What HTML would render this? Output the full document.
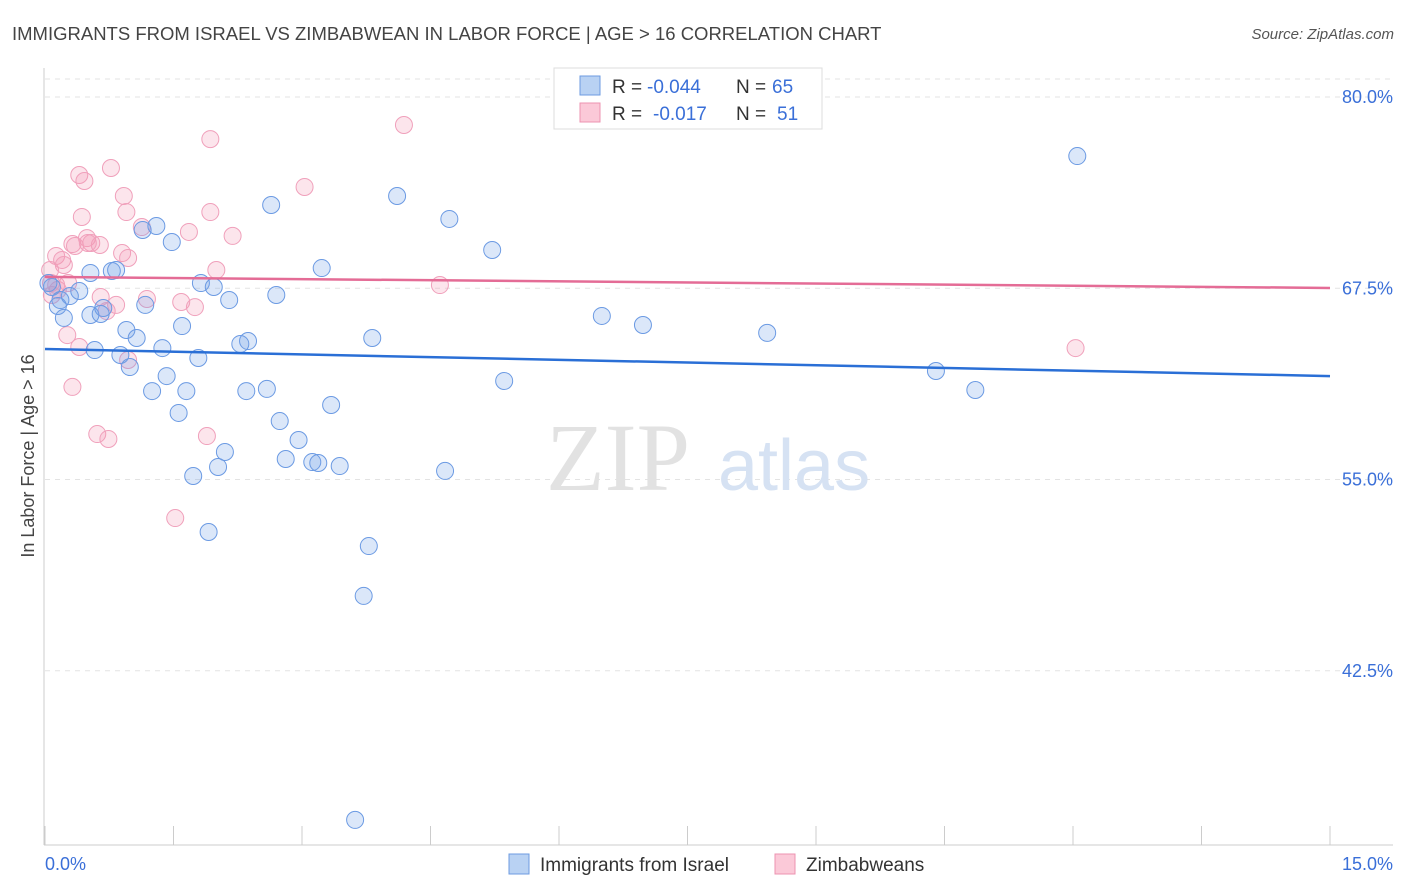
<!DOCTYPE html>
<html><head><meta charset="utf-8"><style>
body{margin:0;background:#fff;font-family:"Liberation Sans",sans-serif;}
svg{display:block}
</style></head><body>
<svg id="chart" width="1406" height="892" xmlns="http://www.w3.org/2000/svg">
<text x="12" y="40" font-size="18.5" fill="#444">IMMIGRANTS FROM ISRAEL VS ZIMBABWEAN IN LABOR FORCE | AGE &gt; 16 CORRELATION CHART</text>
<text x="1394" y="39" font-size="15" fill="#555" font-style="italic" text-anchor="end">Source: ZipAtlas.com</text>
<g id="grid"></g>
<text x="690" y="490" font-size="96" fill="#e2e2e2" font-family="Liberation Serif,serif" text-anchor="end">ZIP</text>
<text x="718" y="490" font-size="72" fill="#d6e2f3">atlas</text>
<g id="marks"></g>
<text transform="translate(34,456) rotate(-90)" font-size="18" fill="#444" text-anchor="middle">In Labor Force | Age &gt; 16</text>
<g>
<rect x="554" y="68" width="268" height="61" fill="#fff" stroke="#ddd"/>
<rect x="580" y="76" width="20" height="19" fill="#b9d2f3" stroke="#6d9be0"/>
<rect x="580" y="103" width="20" height="19" fill="#fbc9d8" stroke="#ec93b0"/>
<text x="612" y="93" font-size="19" fill="#333">R =</text>
<text x="647" y="93" font-size="19" fill="#3a6fd8">-0.044</text>
<text x="736" y="93" font-size="19" fill="#333">N =</text>
<text x="772" y="93" font-size="19" fill="#3a6fd8">65</text>
<text x="612" y="120" font-size="19" fill="#333">R =</text>
<text x="653" y="120" font-size="19" fill="#3a6fd8">-0.017</text>
<text x="736" y="120" font-size="19" fill="#333">N =</text>
<text x="777" y="120" font-size="19" fill="#3a6fd8">51</text>
</g>
<g>
<rect x="509" y="854" width="20" height="20" fill="#b9d2f3" stroke="#6d9be0"/>
<text x="540" y="871" font-size="19" fill="#333">Immigrants from Israel</text>
<rect x="775" y="854" width="20" height="20" fill="#fbc9d8" stroke="#ec93b0"/>
<text x="806" y="871" font-size="19" fill="#333">Zimbabweans</text>
</g>
<text x="45" y="870" font-size="18" fill="#3a6fd8">0.0%</text>
<text x="1393" y="870" font-size="18" fill="#3a6fd8" text-anchor="end">15.0%</text>
</svg>
<script>
const yTicks=[80,67.5,55,42.5];
const yTickLabels=["80.0%","67.5%","55.0%","42.5%"];
const blueX=[12.05,4.11,2.64,4.72,1.14,1.30,1.48,5.22,3.23,0.78,0.83,0.53,1.82,1.97,2.70,2.15,0.40,0.08,0.18,0.29,0.15,0.22,0.53,0.68,1.17,0.65,6.50,6.98,1.60,0.95,1.07,8.43,3.82,2.37,2.28,0.58,1.37,0.88,1.79,0.99,10.40,1.42,5.36,1.25,1.65,2.35,2.59,10.86,3.34,1.56,2.74,2.96,2.10,2.81,3.12,3.19,3.44,2.02,4.67,1.73,1.91,3.78,3.72,3.62,0.04];
const blueY=[76.14,73.53,72.94,72.03,71.31,71.57,70.52,70.0,68.82,68.63,68.69,68.5,67.84,67.58,67.06,66.73,67.32,67.58,66.73,66.99,66.34,65.56,65.75,66.21,66.41,65.82,65.69,65.10,65.03,64.77,64.25,64.58,64.25,64.05,63.86,63.46,63.59,63.14,62.94,62.35,62.09,61.76,61.44,60.78,60.78,60.78,60.92,60.85,59.87,59.35,58.82,57.58,56.80,56.34,56.14,56.08,55.88,55.82,55.56,55.23,51.57,50.65,47.39,32.75,67.84];
const pinkX=[4.19,1.93,0.77,0.40,0.46,3.03,0.92,1.93,0.95,0.43,1.13,1.68,2.19,0.49,0.32,0.54,0.35,0.90,0.97,0.13,0.20,0.22,2.00,0.27,4.61,0.07,0.15,0.08,0.65,1.19,1.59,1.75,0.83,0.72,0.26,0.40,12.03,0.97,0.32,0.61,0.74,1.89,1.52,0.06,0.13,0.64,0.50];
const pinkY=[78.17,77.25,75.36,74.90,74.51,74.12,73.53,72.48,72.48,72.16,71.50,71.18,70.92,70.78,70.39,70.46,70.26,69.80,69.48,69.61,69.35,69.02,68.69,67.84,67.71,67.84,67.39,67.06,66.93,66.80,66.60,66.27,66.41,66.01,64.44,63.66,63.59,62.81,61.05,57.97,57.65,57.84,52.48,68.69,67.71,70.33,70.46];
const blueTrend=[63.53,61.76];
const pinkTrend=[68.24,67.52];
const xDomain=[0,15];

const NS="http://www.w3.org/2000/svg";
const X=v=>45+(v-xDomain[0])*(1330-45)/(xDomain[1]-xDomain[0]);
const Y=v=>97+(80-v)*15.3;
function mk(tag,attrs,parent){const e=document.createElementNS(NS,tag);for(const k in attrs)e.setAttribute(k,attrs[k]);parent.appendChild(e);return e;}
const grid=document.getElementById('grid'),marks=document.getElementById('marks');
let l=mk('line',{x1:45,x2:1393,y1:79,y2:79,stroke:'#e3e3e3','stroke-dasharray':'5,5'},grid);


yTicks.forEach((t,i)=>{
 const g=mk('line',{x1:45,x2:1393,y1:Y(t),y2:Y(t),stroke:'#e3e3e3','stroke-dasharray':'5,5'},grid);
 
 
 const tx=mk('text',{x:1393,y:Y(t)+6,'font-size':18,fill:'#3a6fd8','text-anchor':'end'},grid);
 tx.textContent=yTickLabels[i];
 
 
});
let ax=mk('line',{x1:44,x2:44,y1:68,y2:845,stroke:'#ccc'},grid);


let bx=mk('line',{x1:44,x2:1393,y1:845,y2:845,stroke:'#ccc'},grid);


for(let i=0;i<=10;i++){
 const t=mk('line',{x1:X(i*1.5),x2:X(i*1.5),y1:826,y2:845,stroke:'#ccc'},grid);
 
 
}
function pts(xs,ys,fill,stroke,name){
 xs.forEach((x,i)=>{
  const c=mk('circle',{cx:X(x),cy:Y(ys[i]),r:8.5,fill:fill,stroke:stroke,'stroke-width':1},marks);
  
  
 });
}
pts(pinkX,pinkY,'rgba(245,150,180,0.25)','#f0a0bb','point-zimbabwe');
pts(blueX,blueY,'rgba(110,160,230,0.25)','#6b9ae3','point-israel');
let tb=mk('line',{x1:X(0),x2:X(15),y1:Y(blueTrend[0]),y2:Y(blueTrend[1]),stroke:'#2a6fd6','stroke-width':2.5},marks);


let tp=mk('line',{x1:X(0),x2:X(15),y1:Y(pinkTrend[0]),y2:Y(pinkTrend[1]),stroke:'#e46c96','stroke-width':2.5},marks);


</script>
</body></html>
